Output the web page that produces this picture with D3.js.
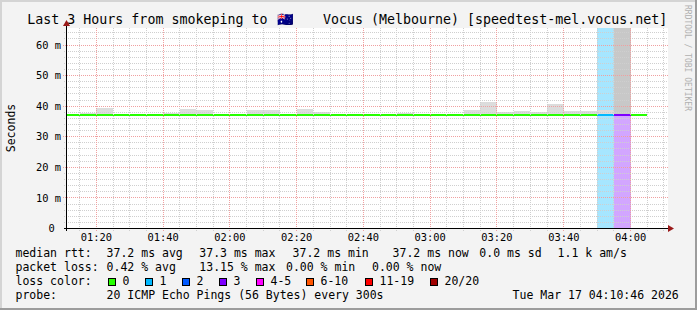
<!DOCTYPE html>
<html><head><meta charset="utf-8">
<script src="https://cdn.jsdelivr.net/npm/d3@7"></script>
<style>
html,body{margin:0;padding:0;background:#f3f3f3;}
svg{display:block;}
text{font-family:"DejaVu Sans Mono","Liberation Mono",monospace;white-space:pre;}
</style></head><body>
<svg id="c" width="697" height="310"></svg>
<script>
// ---------- data ----------
const columnTimes = ["01:10","01:15","01:20","01:25","01:30","01:35","01:40","01:45","01:50","01:55",
  "02:00","02:05","02:10","02:15","02:20","02:25","02:30","02:35","02:40","02:45",
  "02:50","02:55","03:00","03:05","03:10","03:15","03:20","03:25","03:30","03:35",
  "03:40","03:45","03:50","03:55","04:00"];
const medianRtt = [37.2,37.2,37.2,37.2,37.2,37.2,37.2,37.2,37.2,37.2,
  37.2,37.2,37.2,37.2,37.2,37.2,37.2,37.2,37.2,37.2,
  37.2,37.2,37.2,37.2,37.2,37.2,37.2,37.2,37.2,37.2,
  37.2,37.2,37.2,37.2,37.2];
const pingMax = [37.4,37.9,39.5,37.4,37.4,37.4,37.9,39.2,38.7,37.4,
  37.4,38.8,38.8,37.4,39.2,38.1,37.4,37.4,37.4,37.4,
  37.7,37.4,37.4,37.4,38.7,41.4,38.0,38.5,38.1,40.7,
  38.5,38.5,38.8,75.0,37.2];
const pingUpper = [37.2,37.2,37.2,37.2,37.2,37.2,37.2,37.2,37.2,37.2,
  37.2,37.2,37.2,37.2,37.2,37.2,37.2,37.2,37.2,37.2,
  37.2,37.2,37.2,37.2,37.2,37.2,37.2,37.2,37.2,37.2,
  37.2,37.2,37.2,75.0,37.2];
const lossCount = [0,0,0,0,0,0,0,0,0,0, 0,0,0,0,0,0,0,0,0,0, 0,0,0,0,0,0,0,0,0,0, 0,0,1,3,0];
const yTickValues = [0,10,20,30,40,50,60];
const xTickLabels = ["01:20","01:40","02:00","02:20","02:40","03:00","03:20","03:40","04:00"];
const lossLabels = ["0","1","2","3","4-5","6-10","11-19","20/20"];
const lossThresholds = [0,1,2,3,5,10,19,20];
const rttStats = [["37.2","ms avg"],["37.3","ms max"],["37.2","ms min"],["37.2","ms now"],["0.0","ms sd"],["1.1","k am/s"]];
const lossStats = [["0.42","% avg"],["13.15","% max"],["0.00","% min"],["0.00","% now"]];
const titleParts = ["Last 3 Hours from smokeping to ", "\u{1F1E6}\u{1F1FA}", "Vocus (Melbourne) [speedtest-mel.vocus.net]"];
const yAxisTitle = "Seconds";
const probeText = "20 ICMP Echo Pings (56 Bytes) every 300s";
const stampText = "Tue Mar 17 04:10:46 2026";
const watermark = "RRDTOOL / TOBI OETIKER";

// ---------- style ----------
const lossColors = ["#26ff00","#00b8ff","#0059ff","#7e00ff","#ff00ff","#ff5500","#ff0000","#a00000"];
const W = 697, H = 310;
const plot = {l:67, r:668, t:28.5, b:228.5};

const toDate = s => { const [h,m] = s.split(":").map(Number); return new Date(2026,2,17,h,m,0); };
const start = new Date(2026,2,17,1,11,13);
const end = new Date(2026,2,17,4,11,13);
const x = d3.scaleTime().domain([start,end]).range([plot.l, plot.r]);
const y = d3.scaleLinear().domain([0,65.4]).range([plot.b, plot.t]);
const STEP = 5*60*1000;
const cx = v => Math.max(plot.l, Math.min(plot.r-1, Math.round(v)));
const ln = v => Math.floor(v)+0.5;
const lossIndex = n => { for (let i=lossThresholds.length-1;i>=0;i--) if (n>=lossThresholds[i]) return i; return 0; };

const cols = columnTimes.map((t,i)=>({t:toDate(t), med:medianRtt[i], max:pingMax[i], up:pingUpper[i], loss:lossCount[i]}));

const svg = d3.select("#c");
// background + 3d border
svg.append("rect").attr("width",W).attr("height",H).attr("fill","#f3f3f3");
svg.append("rect").attr("x",0).attr("y",0).attr("width",W).attr("height",2).attr("fill","#d4d4d4");
svg.append("rect").attr("x",0).attr("y",0).attr("width",2).attr("height",H).attr("fill","#d4d4d4");
svg.append("rect").attr("x",0).attr("y",H-2).attr("width",W).attr("height",2).attr("fill","#9c9c9c");
svg.append("rect").attr("x",W-2).attr("y",0).attr("width",2).attr("height",H).attr("fill","#9c9c9c");

// canvas
svg.append("rect").attr("x",plot.l).attr("y",28).attr("width",plot.r-plot.l).attr("height",200).attr("fill","#ffffff");

svg.append("clipPath").attr("id","pc").append("rect")
  .attr("x",plot.l).attr("y",28).attr("width",plot.r-plot.l).attr("height",200);
const g = svg.append("g").attr("clip-path","url(#pc)");

// loss background
g.selectAll("rect.lossbg").data(cols.filter(d=>d.loss>0)).join("rect")
  .attr("x",d=>cx(x(d.t))).attr("width",d=>cx(x(+d.t+STEP))-cx(x(d.t)))
  .attr("y",28).attr("height",200)
  .attr("fill",d=>lossColors[lossIndex(d.loss)]).attr("fill-opacity",0.35);

// smoke outer
g.selectAll("rect.smoke").data(cols.filter(d=>d.max>d.med)).join("rect")
  .attr("x",d=>cx(x(d.t))).attr("width",d=>cx(x(+d.t+STEP))-cx(x(d.t)))
  .attr("y",d=>Math.round(Math.max(28,y(d.max)))).attr("height",d=>Math.round(y(d.med))-Math.round(Math.max(28,y(d.max))))
  .attr("fill","#dcdcdc");
// smoke inner (denser pings)
g.selectAll("rect.smoke2").data(cols.filter(d=>d.up>d.med)).join("rect")
  .attr("x",d=>cx(x(d.t))).attr("width",d=>cx(x(+d.t+STEP))-cx(x(d.t)))
  .attr("y",d=>Math.round(Math.max(28,y(d.up)))).attr("height",d=>Math.round(y(d.med))-Math.round(Math.max(28,y(d.up))))
  .attr("fill","#c8c8c8");

// grid
const grid = svg.append("g");
const minorY = d3.range(0, 65.4, 2).filter(v=>v%10!==0);
const majorY = yTickValues.filter(v=>v>0);
grid.selectAll("line.my").data(minorY).join("line")
  .attr("x1",64).attr("x2",plot.r).attr("y1",d=>ln(y(d))).attr("y2",d=>ln(y(d)))
  .attr("stroke","#cfcfcf").attr("stroke-dasharray","1,1");
const xMinor = d3.timeMinute.every(5).range(start, end).filter(d=>d.getMinutes()%20!==0);
const xMajor = xTickLabels.map(toDate);
grid.selectAll("line.mx").data(xMinor).join("line")
  .attr("y1",plot.t-0.5).attr("y2",231).attr("x1",d=>ln(x(d))).attr("x2",d=>ln(x(d)))
  .attr("stroke","#cfcfcf").attr("stroke-dasharray","1,1");
grid.selectAll("line.My").data(majorY).join("line")
  .attr("x1",63).attr("x2",plot.r).attr("y1",d=>ln(y(d))).attr("y2",d=>ln(y(d)))
  .attr("stroke","#f0a0a0").attr("stroke-dasharray","1,1");
grid.selectAll("line.Mx").data(xMajor).join("line")
  .attr("y1",plot.t-0.5).attr("y2",232).attr("x1",d=>ln(x(d))).attr("x2",d=>ln(x(d)))
  .attr("stroke","#f0a0a0").attr("stroke-dasharray","1,1");

// median line (coloured by loss)
g.selectAll("line.med").data(cols).join("line")
  .attr("x1",d=>cx(x(d.t))).attr("x2",d=>Math.min(plot.r, Math.round(x(+d.t+STEP))))
  .attr("y1",d=>Math.round(y(d.med))).attr("y2",d=>Math.round(y(d.med)))
  .attr("stroke",d=>lossColors[lossIndex(d.loss)]).attr("stroke-width",2);

// axes
svg.append("line").attr("x1",64).attr("x2",669).attr("y1",228.5).attr("y2",228.5).attr("stroke","#000");
svg.append("line").attr("x1",66.5).attr("x2",66.5).attr("y1",25).attr("y2",231).attr("stroke","#000");
svg.append("path").attr("d","M668,225 L674,228.5 L668,232 Z").attr("fill","#9a1a1a");
svg.append("path").attr("d","M63,26 L66.5,20 L70,26 Z").attr("fill","#9a1a1a");

// tick labels
const axisFont = "10.4px";
svg.selectAll("text.xt").data(xTickLabels).join("text")
  .attr("x",d=>x(toDate(d))).attr("y",241).attr("text-anchor","middle")
  .attr("font-size",axisFont).attr("fill","#000").text(d=>d);
svg.selectAll("text.yt").data(yTickValues).join("text")
  .attr("x",61).attr("y",d=>y(d)+3.6).attr("text-anchor","end")
  .attr("font-size",axisFont).attr("fill","#000").text(d=>d===0?"0 ":d+" m");

// y title
svg.append("text").attr("transform","translate(14.5,128) rotate(-90)").attr("text-anchor","middle")
  .attr("font-size","11.5px").attr("fill","#000").text(yAxisTitle);

// title
const tt = svg.append("text").attr("x",27.3).attr("y",24).attr("font-size","13.3px").attr("fill","#000");
tt.append("tspan").text(titleParts[0]);
tt.append("tspan").attr("x",277).text(titleParts[1]);
tt.append("tspan").attr("x",323).text(titleParts[2]);

// watermark
svg.append("text").attr("transform","translate(685,5) rotate(90)").attr("font-size","8px")
  .attr("fill","#b0b0b0").text(watermark);

// legend
const lf = "11.5px";
const leg = svg.append("g").attr("font-size",lf).attr("fill","#000");
leg.append("text").attr("x",15.5).attr("y",257).text("median rtt:");
leg.append("text").attr("x",15.5).attr("y",271).text("packet loss:");
leg.append("text").attr("x",15.5).attr("y",285).text("loss color:");
leg.append("text").attr("x",15.5).attr("y",299).text("probe:");
const rttX = [106.6,199.3,292.6,392.6,479.3,557.6];
leg.selectAll("text.rs").data(rttStats).join("text")
  .attr("x",(d,i)=>rttX[i]).attr("y",257).text(d=>d[0]+" "+d[1]);
const lossX = [106.6,199.3,286,372];
leg.selectAll("text.ls").data(lossStats).join("text")
  .attr("x",(d,i)=>lossX[i]).attr("y",271).text(d=>d[0]+" "+d[1]);
const boxX = [108.5,145.5,182.5,219.5,256.5,306.5,365.5,430.5];
leg.selectAll("rect.lb").data(lossLabels).join("rect")
  .attr("x",(d,i)=>boxX[i]).attr("y",278.5).attr("width",7).attr("height",7)
  .attr("fill",(d,i)=>lossColors[i]).attr("stroke","#000").attr("stroke-width",1);
leg.selectAll("text.lt").data(lossLabels).join("text")
  .attr("x",(d,i)=>boxX[i]+14).attr("y",285).text(d=>d);
leg.append("text").attr("x",106.6).attr("y",299).text(probeText);
leg.append("text").attr("x",512.6).attr("y",299).text(stampText);
</script>
</body></html>
